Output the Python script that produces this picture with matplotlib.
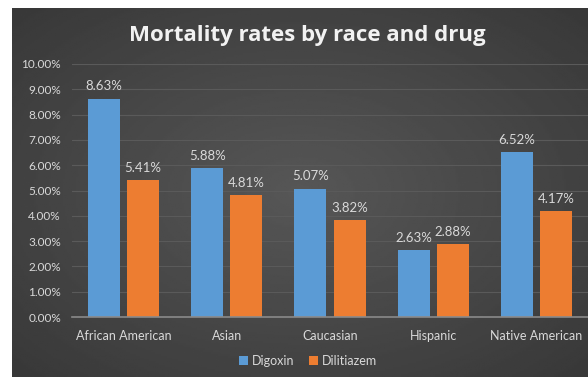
import numpy as np
import matplotlib
matplotlib.use('Agg')
import matplotlib.pyplot as plt
from matplotlib.ticker import PercentFormatter, MultipleLocator

# data
races = ["African American", "Asian", "Caucasian", "Hispanic", "Native American"]
digoxin = [0.0863, 0.0588, 0.0507, 0.0263, 0.0652]
dilitiazem = [0.0541, 0.0481, 0.0382, 0.0288, 0.0417]

blue = "#5B9BD5"
orange = "#ED7D31"
txt = "#D9D9D9"

plt.rcParams['font.family'] = ['Lato', 'DejaVu Sans']

W, H = 588, 377
fig = plt.figure(figsize=(W / 100, H / 100), dpi=100)
fig.patch.set_facecolor("white")

# dark radial-gradient panel behind the chart
bg = fig.add_axes([12 / W, 0, 576 / W, 369 / H])
yy, xx = np.mgrid[-1:1:200j, -1:1:300j]
r = np.sqrt(xx ** 2 + yy ** 2) / np.sqrt(2)
bg.imshow(0.22 + 0.12 * (1 - r), cmap="gray", vmin=0, vmax=1,
          aspect="auto", extent=[0, 1, 0, 1])
bg.set_axis_off()

ax = fig.add_axes([72 / W, 60 / H, 516 / W, 253 / H])
ax.patch.set_alpha(0)

x = np.arange(len(races))
w = 0.31
off = 0.19
b1 = ax.bar(x - off, digoxin, w, color=blue, label="Digoxin", zorder=3)
b2 = ax.bar(x + off, dilitiazem, w, color=orange, label="Dilitiazem", zorder=3)

for bars in (b1, b2):
    for b in bars:
        ax.text(b.get_x() + b.get_width() / 2, b.get_height() + 0.0025,
                f"{b.get_height() * 100:.2f}%", ha="center", va="bottom",
                color=txt, fontsize=9.5)

ax.set_xlim(-0.5, 4.5)
ax.set_ylim(0, 0.10)
ax.yaxis.set_major_locator(MultipleLocator(0.01))
ax.yaxis.set_major_formatter(PercentFormatter(1.0, decimals=2))
ax.grid(axis="y", color="#5a5a5a", linewidth=0.8, zorder=0)
ax.set_xticks(x)
ax.set_xticklabels(races)
ax.tick_params(axis="both", length=0, colors=txt, labelsize=8.5)
ax.tick_params(axis="x", pad=9, labelsize=9)
ax.tick_params(axis="y", pad=8)
for s in ["top", "right", "left"]:
    ax.spines[s].set_visible(False)
ax.spines["bottom"].set_color("#8a8a8a")
ax.spines["bottom"].set_linewidth(1.2)
ax.spines["bottom"].set_zorder(4)

fig.text(307 / W, 1 - 35 / H, "Mortality rates by race and drug", ha="center",
         va="center", color="#F2F2F2", fontsize=16, fontweight="bold",
         family=["Open Sans", "DejaVu Sans"])

fig.legend(loc="center", bbox_to_anchor=(308 / W, 16 / H), ncol=2,
           frameon=False, labelcolor=txt, fontsize=9, handlelength=0.7,
           handleheight=0.7, handletextpad=0.3, columnspacing=1.2)

fig.savefig("out.png", dpi=100)
